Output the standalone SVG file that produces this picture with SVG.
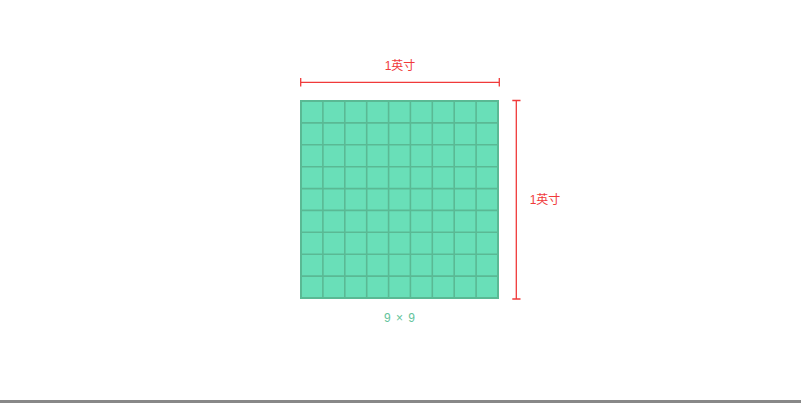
<svg xmlns="http://www.w3.org/2000/svg" width="801" height="403" viewBox="0 0 801 403">
<style>
.dim{stroke:#f03a3a;stroke-width:1.3;fill:none}
.lbl{font-family:"Liberation Sans","Noto Sans CJK SC",sans-serif;font-size:12px;fill:#f03a3a;text-anchor:middle}
.cap{font-family:"Liberation Sans","Noto Sans CJK SC",sans-serif;font-size:12px;fill:#63c39b;text-anchor:middle;letter-spacing:1px}
.grid{stroke:#5ab994;stroke-width:1.6;fill:none}
</style>
<rect width="801" height="403" fill="#ffffff"/>
<g id="grid">
<rect x="301" y="101" width="197" height="197" fill="#69dfb8" stroke="#5ab994" stroke-width="2"/>
<path class="grid" d="M322.9 101V298M344.8 101V298M366.7 101V298M388.6 101V298M410.4 101V298M432.3 101V298M454.2 101V298M476.1 101V298M301 122.9H498M301 144.8H498M301 166.7H498M301 188.6H498M301 210.4H498M301 232.3H498M301 254.2H498M301 276.1H498"/>
</g>
<g id="connectors">
<path class="dim" d="M300.7 82.3H499.3M300.7 78V86.5M499.3 78V86.5"/>
<path class="dim" d="M516.3 100.5V299M512.3 100.5H520.5M512.3 299H520.5"/>
</g>
<g id="label-top"><text class="lbl" x="400" y="70">1英寸</text></g>
<g id="label-right"><text class="lbl" x="545" y="204">1英寸</text></g>
<g id="caption"><text class="cap" x="400" y="322">9 × 9</text></g>
<rect x="0" y="400" width="801" height="3" fill="#888888"/>
</svg>
